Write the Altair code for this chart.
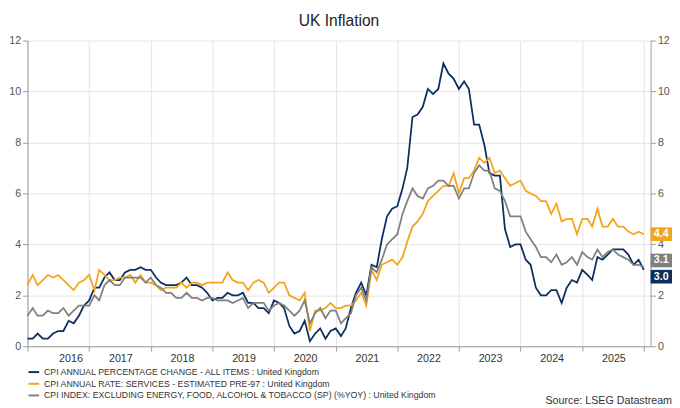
import altair as alt
import pandas as pd

cpi = [0.3,0.3,0.5,0.3,0.3,0.5,0.6,0.6,1.0,0.9,1.2,1.6,
       1.8,2.3,2.3,2.7,2.9,2.6,2.6,2.9,3.0,3.0,3.1,3.0,
       3.0,2.7,2.5,2.4,2.4,2.4,2.5,2.7,2.4,2.4,2.3,2.1,
       1.8,1.9,1.9,2.1,2.0,2.0,2.1,1.7,1.7,1.5,1.5,1.3,
       1.8,1.7,1.5,0.8,0.5,0.6,1.0,0.2,0.5,0.7,0.3,0.6,
       0.7,0.4,0.7,1.5,2.1,2.5,2.0,3.2,3.1,4.2,5.1,5.4,
       5.5,6.2,7.0,9.0,9.1,9.4,10.1,9.9,10.1,11.1,10.7,10.5,
       10.1,10.4,10.1,8.7,8.7,7.9,6.8,6.7,6.7,4.6,3.9,4.0,
       4.0,3.4,3.2,2.3,2.0,2.0,2.2,2.2,1.7,2.3,2.6,2.5,
       3.0,2.8,2.6,3.5,3.4,3.6,3.8,3.8,3.8,3.6,3.2,3.4,
       3.0]
services = [2.4,2.8,2.4,2.6,2.8,2.7,2.8,2.6,2.4,2.2,2.5,2.6,
            2.8,2.2,3.0,2.8,2.6,2.6,2.7,2.7,2.8,2.5,2.8,2.5,
            2.5,2.4,2.2,2.3,2.3,2.3,2.5,2.3,2.5,2.5,2.4,2.5,
            2.5,2.5,2.5,2.9,2.6,2.5,2.5,2.2,2.5,2.6,2.5,2.1,
            2.3,2.5,2.5,2.0,1.9,1.8,2.1,0.6,1.4,1.4,1.5,1.7,
            1.5,1.5,1.6,1.6,1.8,2.1,1.6,3.0,2.6,3.2,3.3,3.4,
            3.2,3.5,4.1,4.7,4.9,5.2,5.7,5.9,6.1,6.3,6.3,6.8,
            6.0,6.6,6.6,6.9,7.4,7.2,7.4,6.8,6.9,6.6,6.3,6.4,
            6.5,6.1,6.0,5.9,5.7,5.7,5.2,5.6,4.9,5.0,5.0,4.4,
            5.0,5.0,4.7,5.4,4.7,4.7,5.0,4.7,4.7,4.5,4.4,4.5,
            4.4]
core = [1.2,1.5,1.2,1.2,1.4,1.3,1.3,1.5,1.2,1.4,1.6,1.6,
        1.6,2.0,1.8,2.4,2.6,2.4,2.4,2.7,2.7,2.7,2.7,2.5,
        2.7,2.4,2.3,2.1,2.1,1.9,1.9,2.1,1.9,1.9,1.8,1.9,
        1.9,1.8,1.8,1.8,1.7,1.8,1.9,1.5,1.7,1.7,1.7,1.4,
        1.6,1.7,1.6,1.4,1.2,1.4,1.8,0.9,1.3,1.5,1.1,1.4,
        1.4,0.9,1.1,1.3,2.0,2.3,1.8,3.1,2.9,3.4,4.0,4.2,
        4.4,5.2,5.7,6.2,5.9,5.8,6.2,6.3,6.5,6.5,6.3,6.3,
        5.8,6.2,6.2,6.8,7.1,6.9,6.9,6.2,6.1,5.7,5.1,5.1,
        5.1,4.5,4.2,3.9,3.5,3.5,3.3,3.6,3.2,3.3,3.5,3.2,
        3.7,3.5,3.4,3.8,3.5,3.7,3.8,3.6,3.5,3.4,3.2,3.2,
        3.1]

names = ["CPI ANNUAL PERCENTAGE CHANGE - ALL ITEMS : United Kingdom",
         "CPI ANNUAL RATE: SERVICES - ESTIMATED PRE-97 : United Kingdom",
         "CPI INDEX: EXCLUDING ENERGY, FOOD, ALCOHOL & TOBACCO (SP) (%YOY) : United Kingdom"]
colors = ["#0b2f5e", "#f5a31a", "#808080"]
end_labels = ["3.0", "4.4", "3.1"]

dates = pd.date_range("2016-01-01", periods=len(cpi), freq="MS")
rows = []
for name, vals in zip(names, [cpi, services, core]):
    for d, v in zip(dates, vals):
        rows.append({"date": d, "value": v, "series": name})
df = pd.DataFrame(rows)

W, H = 640, 314
xdom = [pd.Timestamp("2016-01-01").isoformat(), pd.Timestamp("2026-02-10").isoformat()]
yscale = alt.Scale(domain=[0, 12])
cscale = alt.Scale(domain=names, range=colors)

lines = alt.Chart(df).mark_line(strokeWidth=1.8).encode(
    x=alt.X("date:T", scale=alt.Scale(domain=xdom), title=None,
            axis=alt.Axis(tickCount={"interval": "year", "step": 1},
                          labelExpr="year(datum.value) > 2025 ? '' : timeFormat(datum.value, '%Y')",
                          labelOffset=32, labelColor="#333", labelFontSize=11,
                          gridColor="#e3e3e3", domainColor="#999", tickColor="#999")),
    y=alt.Y("value:Q", scale=yscale, title=None,
            axis=alt.Axis(values=list(range(0, 13, 2)), labelColor="#555", labelFontSize=11,
                          gridColor="#e3e3e3", domainColor="#999", tickColor="#999")),
    color=alt.Color("series:N", scale=cscale, sort=names,
                    legend=alt.Legend(orient="bottom", direction="vertical", title=None,
                                      labelFontSize=9, labelColor="#333", symbolType="stroke",
                                      symbolStrokeWidth=2, symbolSize=120, rowPadding=0,
                                      labelLimit=600, offset=2, padding=0)),
)

right = alt.Chart(df).mark_line(opacity=0).encode(
    x="date:T",
    y=alt.Y("value:Q", scale=yscale, title=None,
            axis=alt.Axis(orient="right", values=list(range(0, 13, 2)), grid=False,
                          labelColor="#555", labelFontSize=11, domainColor="#999", tickColor="#999")),
)

tags = []
for name, vals, col, lab, shift in zip(names, [cpi, services, core], colors, end_labels, [7, 0, -7]):
    one = pd.DataFrame({"value": [vals[-1]], "label": [lab]})
    base = alt.Chart(one).encode(x=alt.value(W + 2),
                                 y=alt.Y("value:Q", scale=yscale, axis=None))
    tags.append(base.mark_rect(width=22, height=14, yOffset=shift, color=col, xOffset=9))
    tags.append(base.mark_text(color="white", fontSize=11, fontWeight="bold", yOffset=shift,
                               align="center", xOffset=9).encode(text="label:N"))

source = alt.Chart(pd.DataFrame({"t": ["Source: LSEG Datastream"]})).mark_text(
    align="right", fontSize=11, color="#333").encode(
    x=alt.value(W + 22), y=alt.value(H + 56), text="t:N")

chart = alt.layer(lines, right, *tags, source).resolve_scale(
    color="independent"
).resolve_axis(y="independent").properties(
    width=W, height=H, padding={"left": 0, "top": 0, "right": 0, "bottom": 0},
    title=alt.Title("UK Inflation", fontSize=16, fontWeight="normal", color="#222",
                    anchor="middle", offset=6),
).configure(font="Arial").configure_view(stroke=None)

chart.save("out.html", embed_options={"renderer": "svg", "actions": False})
